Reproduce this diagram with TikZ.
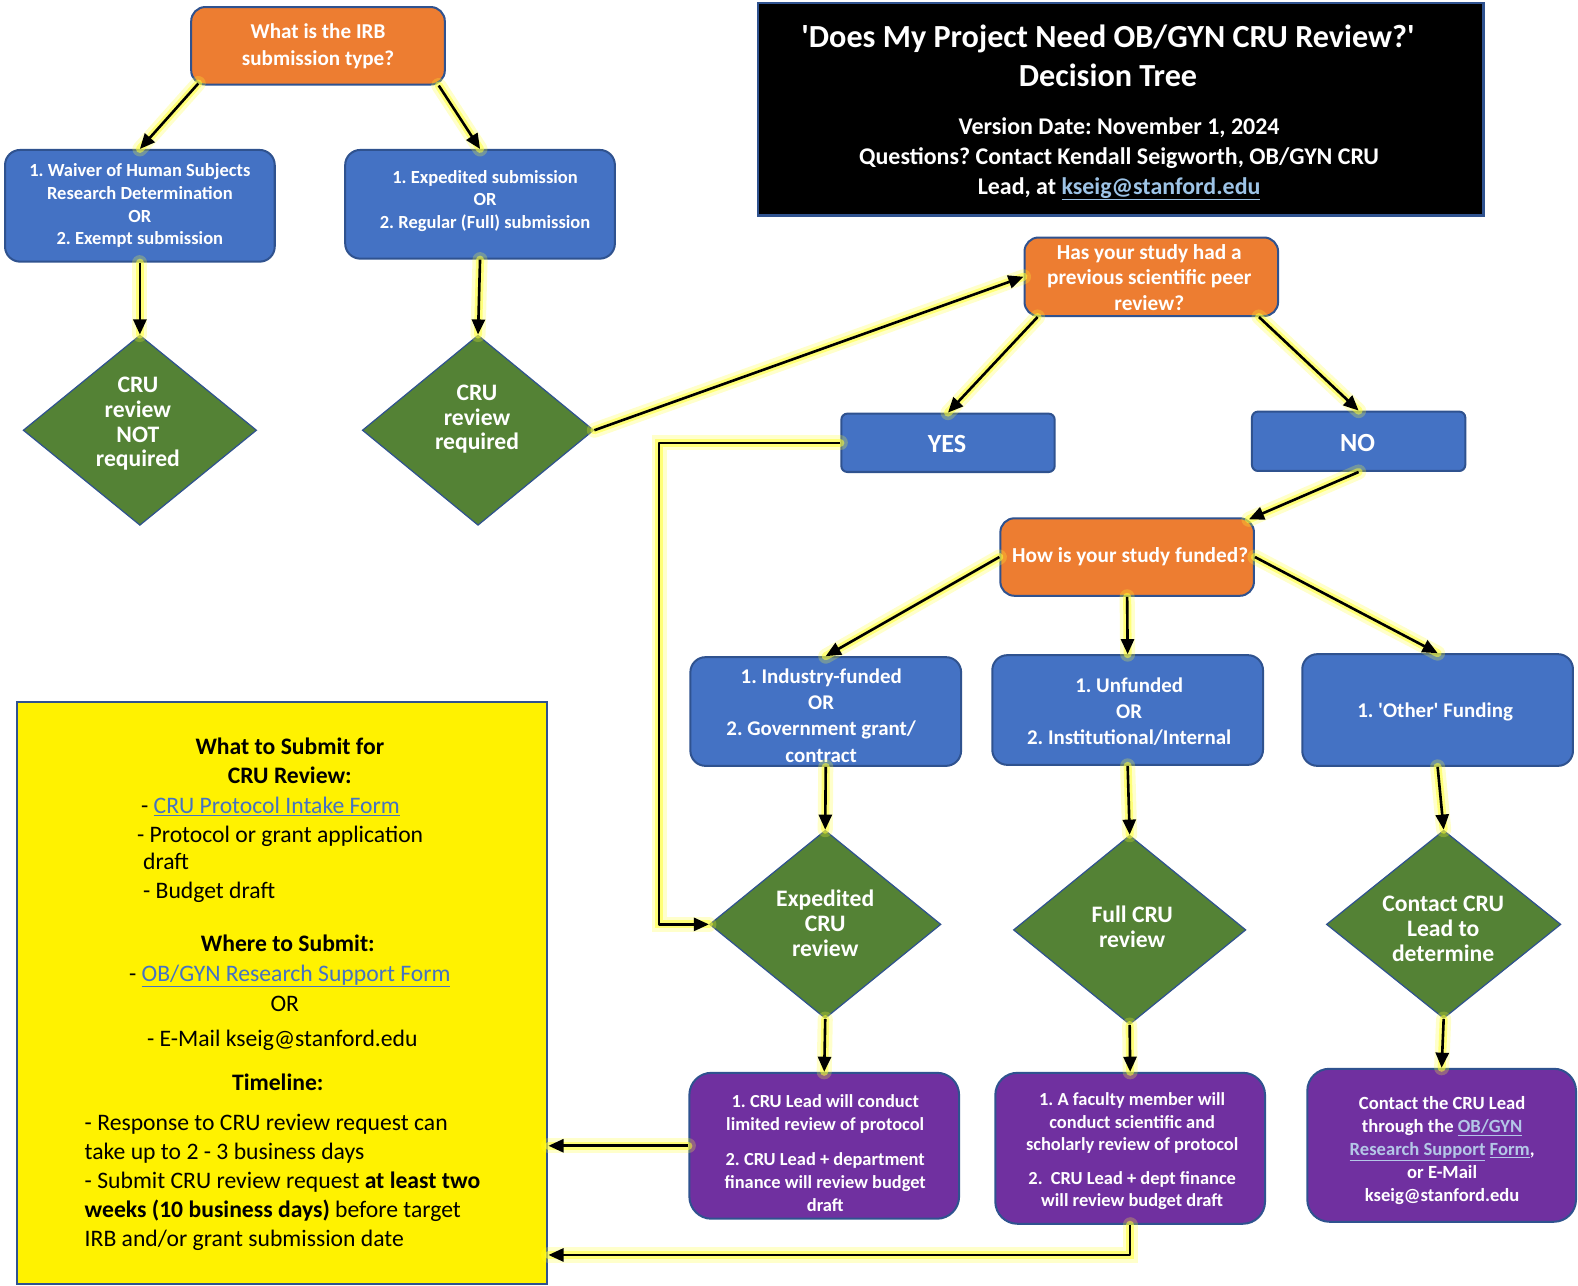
\documentclass[tikz,border=0pt]{standalone}
\usepackage{fontspec}
\setmainfont{Carlito}
\usetikzlibrary{shapes.geometric,arrows.meta,calc}
\definecolor{cOrange}{HTML}{ED7D31}
\definecolor{cBlue}{HTML}{4472C4}
\definecolor{cGreen}{HTML}{548235}
\definecolor{cPurple}{HTML}{7030A0}
\definecolor{cEdge}{HTML}{2F528F}
\definecolor{cGlow}{HTML}{FFFF33}
\definecolor{cLink}{HTML}{9DC3E6}
\definecolor{cLinkP}{HTML}{B4C7E7}
\definecolor{cLinkY}{HTML}{4472C4}
\frenchspacing
\begin{document}
\frenchspacing
\begin{tikzpicture}[x=1pt,y=-1pt,
  boxbase/.style={draw=cEdge, line width=2pt, inner sep=0pt},
  qbox/.style={boxbase, rounded corners=14pt, fill=cOrange},
  bbox/.style={boxbase, rounded corners=15pt, fill=cBlue},
  pbox/.style={boxbase, rounded corners=22pt, fill=cPurple},
  dbox/.style={diamond, draw=cEdge, line width=1.2pt, fill=cGreen, inner sep=0pt},
  wtxt/.style={text=white, align=center, inner sep=0pt, font=\bfseries},
  ytxt/.style={text=black, inner sep=0pt, anchor=base west, font=\fontsize{23.5}{28}\selectfont},
  ytxtc/.style={ytxt, anchor=base},
  yhead/.style={ytxtc, font=\bfseries\fontsize{23.5}{28}\selectfont},
  arr/.style={line width=2.6pt, black, line join=round, -{Triangle[length=15pt,width=13pt]},
    preaction={draw=cGlow, opacity=0.25, line width=15pt, arrows=-, line cap=round},
    preaction={draw=cGlow, opacity=0.55, line width=8pt, arrows=-, line cap=round}}
]
\useasboundingbox (0,0) rectangle (1568,1277);
\fill[white] (0,0) rectangle (1568,1277);

% ---------- boxes ----------
\node[qbox, minimum width=252pt, minimum height=77pt] (q1) at (316,45.5) {};
\node[draw=cEdge, line width=2.5pt, fill=black, inner sep=0pt, minimum width=721pt, minimum height=211pt] (title) at (1113.5,108.5) {};
\node[bbox, minimum width=268pt, minimum height=111pt] (b1) at (139,204.5) {};
\node[bbox, minimum width=268pt, minimum height=108pt] (b2) at (477,203) {};
\node[dbox, minimum width=232pt, minimum height=189pt] (d1) at (139,427.5) {};
\node[dbox, minimum width=230pt, minimum height=189pt] (d2) at (475,427.5) {};
\node[qbox, minimum width=252pt, minimum height=78pt] (q2) at (1144,275) {};
\node[bbox, rounded corners=6pt, minimum width=212pt, minimum height=58pt] (yes) at (942,440) {};
\node[bbox, rounded corners=6pt, minimum width=212pt, minimum height=59pt] (no) at (1350,438.5) {};
\node[qbox, minimum width=252pt, minimum height=77pt] (q3) at (1120,553.5) {};
\node[bbox, minimum width=269pt, minimum height=108pt] (f1) at (820.5,707) {};
\node[bbox, minimum width=269pt, minimum height=109pt] (f2) at (1120.5,705.5) {};
\node[bbox, minimum width=269pt, minimum height=111pt] (f3) at (1428.5,705.5) {};
\node[dbox, minimum width=230pt, minimum height=187pt] (d3) at (820,918.5) {};
\node[dbox, minimum width=231pt, minimum height=188pt] (d4) at (1122.5,924) {};
\node[dbox, minimum width=233pt, minimum height=187pt] (d5) at (1434.5,918.5) {};
\node[pbox, minimum width=268pt, minimum height=145pt] (p1) at (819,1138.5) {};
\node[pbox, minimum width=268pt, minimum height=150pt] (p2) at (1123,1141) {};
\node[pbox, minimum width=267pt, minimum height=152pt] (p3) at (1432.5,1138) {};
\node[draw=cEdge, line width=2pt, fill=yellow, inner sep=0pt, minimum width=527pt, minimum height=578pt] (yb) at (280.5,987) {};

% ---------- texts ----------
\node[wtxt, font=\bfseries\fontsize{21}{26}\selectfont] (q1t) at (316,46) {What is the IRB\\submission type?};
\node[wtxt, font=\bfseries\fontsize{32}{39}\selectfont] (tt1) at (1101,55.5) {\textquotesingle Does My Project Need OB/GYN CRU Review?\textquotesingle\\Decision Tree};
\node[wtxt, font=\bfseries\fontsize{23.8}{29.5}\selectfont] (tt2) at (1112,158) {Version Date: November 1, 2024\\Questions? Contact Kendall Seigworth, OB/GYN CRU\\Lead, at {\color{cLink}\underline{kseig@stanford.edu}}};
\node[wtxt, font=\bfseries\fontsize{18.4}{22.5}\selectfont] (b1t) at (139,204.5) {1. Waiver of Human Subjects\\Research Determination\\OR\\2. Exempt submission};
\node[wtxt, font=\bfseries\fontsize{18.4}{22.5}\selectfont] (b2t) at (482,199.5) {1. Expedited submission\\OR\\2. Regular (Full) submission};
\node[wtxt, font=\bfseries\fontsize{23.5}{24.7}\selectfont] (d1t) at (137,421) {CRU\\review\\NOT\\required};
\node[wtxt, font=\bfseries\fontsize{23.5}{24.7}\selectfont] (d2t) at (474,416.5) {CRU\\review\\required};
\node[wtxt, font=\bfseries\fontsize{21.2}{25.5}\selectfont] (q2t) at (1142,275.5) {Has your study had a\\previous scientific peer\\review?};
\node[wtxt, font=\bfseries\fontsize{26}{28}\selectfont] (yest) at (941,441) {YES};
\node[wtxt, font=\bfseries\fontsize{26}{28}\selectfont] (not) at (1349,440) {NO};
\node[wtxt, font=\bfseries\fontsize{21.2}{26}\selectfont] (q3t) at (1123,553) {How is your study funded?};
\node[wtxt, font=\bfseries\fontsize{20.8}{26}\selectfont] (f1t) at (816,711) {1. Industry-funded\\OR\\2. Government grant/\\contract};
\node[wtxt, font=\bfseries\fontsize{20.8}{26}\selectfont] (f2t) at (1122,707) {1. Unfunded\\OR\\2. Institutional/Internal};
\node[wtxt, font=\bfseries\fontsize{20.8}{26}\selectfont] (f3t) at (1426,707) {1. \textquotesingle Other\textquotesingle\ Funding};
\node[wtxt, font=\bfseries\fontsize{23.5}{24.7}\selectfont] (d3t) at (820,917.5) {Expedited\\CRU\\review};
\node[wtxt, font=\bfseries\fontsize{23.5}{24.7}\selectfont] (d4t) at (1125,920.5) {Full CRU\\review};
\node[wtxt, font=\bfseries\fontsize{23.5}{24.7}\selectfont] (d5t) at (1434,923) {Contact CRU\\Lead to\\determine};
\node[wtxt, font=\bfseries\fontsize{18.3}{22.5}\selectfont] (p1t) at (820,1145.5) {1. CRU Lead will conduct\\limited review of protocol\\[13pt]2. CRU Lead + department\\finance will review budget\\draft};
\node[wtxt, font=\bfseries\fontsize{18.3}{22.5}\selectfont] (p2t) at (1125,1144) {1. A faculty member will\\conduct scientific and\\scholarly review of protocol\\[10.5pt]2.\ \ CRU Lead + dept finance\\will review budget draft};
\node[wtxt, font=\bfseries\fontsize{18.5}{22.75}\selectfont] (p3t) at (1433,1143.5) {Contact the CRU Lead\\through the {\color{cLinkP}\underline{OB/GYN}}\\{\color{cLinkP}\underline{Research Support}} {\color{cLinkP}\underline{Form}},\\or E-Mail\\kseig@stanford.edu};

% yellow box texts
\node[yhead] (y1) at (288,750) {What to Submit for};
\node[yhead] (y2) at (288,779) {CRU Review:};
\node[ytxt] (y3) at (140,808) {- {\color{cLinkY}\underline{CRU Protocol Intake Form}}};
\node[ytxt] (y4) at (136,837) {- Protocol or grant application};
\node[ytxt] (y5) at (142,864) {draft};
\node[ytxt] (y6) at (142,893) {- Budget draft};
\node[yhead] (y7) at (286,945) {Where to Submit:};
\node[ytxt] (y8) at (128,975) {- {\color{cLinkY}\underline{OB/GYN Research Support Form}}};
\node[ytxtc] (y9) at (283,1005) {OR};
\node[ytxt] (y10) at (146,1040) {- E-Mail kseig@stanford.edu};
\node[yhead] (y11) at (276,1084) {Timeline:};
\node[ytxt] (y12) at (84,1123) {- Response to CRU review request can};
\node[ytxt] (y13) at (84,1152) {take up to 2 - 3 business days};
\node[ytxt] (y14) at (84,1181) {- Submit CRU review request \textbf{at least two}};
\node[ytxt] (y15) at (84,1210) {\textbf{weeks (10 business days)} before target};
\node[ytxt] (y16) at (84,1239) {IRB and/or grant submission date};

% ---------- connectors ----------
\draw[arr] ($(q1.south west)+(8,-2)$) -- (b1.north);
\draw[arr] ($(q1.south east)+(-7,0)$) -- (b2.north);
\draw[arr] (b1.south) -- (d1.north);
\draw[arr] (b2.south) -- (d2.north);
\draw[arr] (d2.east) -- (q2.west);
\draw[arr] ($(q2.south west)+(14,0)$) -- (yes.north);
\draw[arr] ($(q2.south east)+(-20,0)$) -- (no.north);
\draw[arr] (no.south) -- ($(q3.north east)+(-6,2)$);
\draw[arr] (yes.west) -- ++(-180,0) |- (d3.west);
\draw[arr] (q3.west) -- (f1.north);
\draw[arr] (q3.south) -- (f2.north);
\draw[arr] (q3.east) -- (f3.north);
\draw[arr] (f1.south) -- (d3.north);
\draw[arr] (f2.south) -- (d4.north);
\draw[arr] (f3.south) -- (d5.north);
\draw[arr] (d3.south) -- (p1.north);
\draw[arr] (d4.south) -- (p2.north);
\draw[arr] (d5.south) -- (p3.north);
\draw[arr] (p1.west) -- (yb.east |- p1.west);
\draw[arr] (p2.south) |- ($(yb.south east)+(0,-30)$);
\end{tikzpicture}
\end{document}
